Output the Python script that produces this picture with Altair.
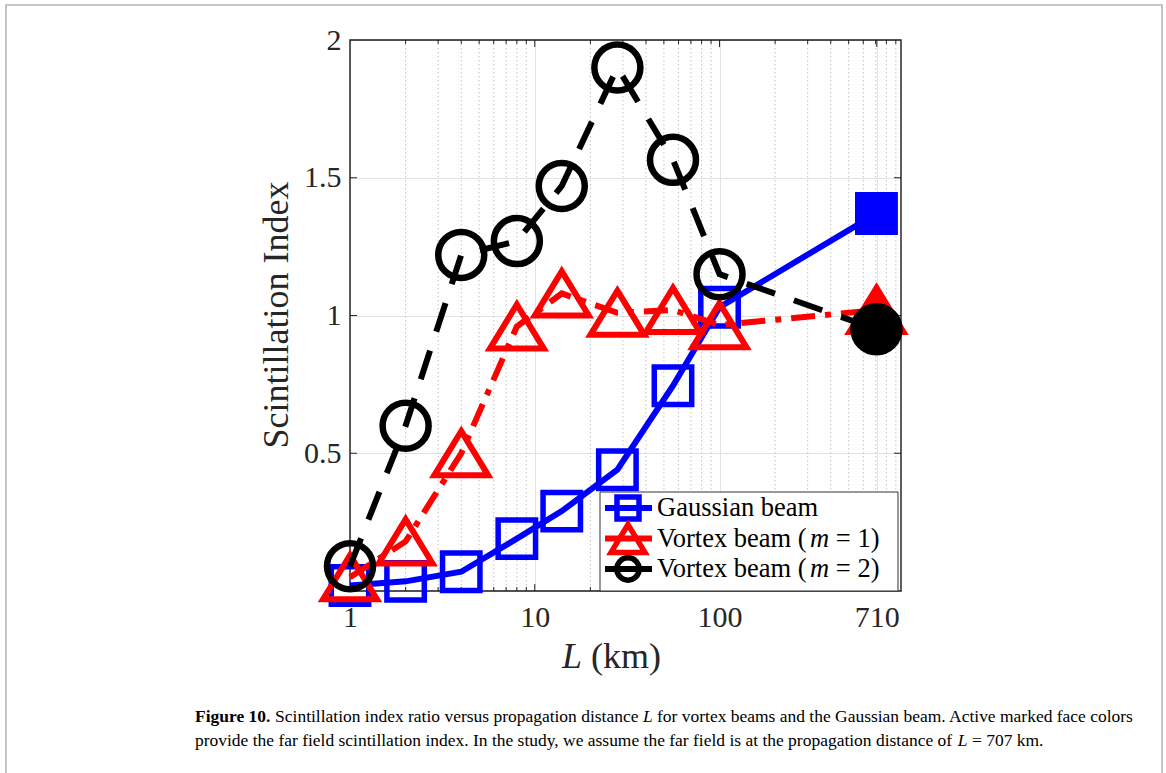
import altair as alt
import pandas as pd

# ---------------- data ----------------
L_km = [1, 2, 4, 8, 14, 28, 56, 100, 707]
gaussian_si = [0.02, 0.035, 0.07, 0.19, 0.29, 0.44, 0.745, 1.03, 1.37]
vortex1_si = [0.05, 0.18, 0.50, 0.96, 1.08, 1.01, 1.02, 0.965, 1.02]
vortex2_si = [0.09, 0.60, 1.22, 1.27, 1.47, 1.90, 1.565, 1.15, 0.95]
far_field_L = 707

x_tick_values = [1, 10, 100, 710]
x_major_tick_marks = [10, 100, 710]
x_minor_values = [2, 3, 4, 5, 6, 7, 8, 9, 20, 30, 40, 50, 60, 70, 80, 90,
                  200, 300, 400, 500, 600, 700, 800, 900]
y_tick_values = [0.5, 1, 1.5, 2]
y_tick_marks = [0.5, 1, 1.5]

# ---------------- layout / style ----------------
W, H = 551, 551
PAD_L, PAD_T = 350, 40
SERIF = "Liberation Serif"
TXT = "#262626"
BLUE, RED, BLACK = "#0000ff", "#ff0000", "#000000"

# Times-compatible advance widths (1/1000 em) for text layout
_REG = dict(zip("abcdefghijklmnopqrstuvwxyz",
                [444, 500, 444, 500, 444, 333, 500, 500, 278, 278, 500, 278, 778,
                 500, 500, 500, 500, 333, 389, 278, 500, 500, 722, 500, 500, 444]))
_REG.update(dict(zip("ABCDEFGHIJKLMNOPQRSTUVWXYZ",
                     [722, 667, 667, 722, 611, 556, 722, 722, 333, 389, 722, 611, 889,
                      722, 722, 556, 722, 667, 556, 611, 722, 722, 944, 722, 722, 611])))
_REG.update({" ": 250, ".": 250, ",": 250, "(": 333, ")": 333, "=": 564, "-": 333})
_REG.update({d: 500 for d in "0123456789"})
_BOLD = {"F": 611, "i": 278, "g": 500, "u": 556, "r": 444, "e": 444, " ": 250, ".": 250}
_BOLD.update({d: 500 for d in "0123456789"})
_ITAL = {"L": 556, "m": 722}


def units(s, style):
    table = {"reg": _REG, "bold": _BOLD, "ital": _ITAL}[style]
    return sum(table.get(c, _REG.get(c, 500)) for c in s)


one = pd.DataFrame({"k": [0]})


def text_at(s, x, y, size, style="reg", align="left", angle=0, color=TXT):
    kw = dict(text=s, align=align, baseline="middle", font=SERIF, fontSize=size, color=color)
    if style == "bold":
        kw["fontWeight"] = "bold"
    if style == "ital":
        kw["fontStyle"] = "italic"
    if angle:
        kw["angle"] = angle
    return alt.Chart(one).mark_text(**kw).encode(x=alt.value(x), y=alt.value(y))


def segments(parts, x0, y, size, color=TXT):
    """Lay out mixed-style text segments one after another."""
    layers, x = [], x0
    for s, style in parts:
        lead = len(s) - len(s.lstrip(" "))
        xs = x + units(s[:lead], style) * size / 1000.0
        if s.strip():
            layers.append(text_at(s.strip(), xs, y, size, style, color=color))
        x += units(s, style) * size / 1000.0
    return layers


xscale = alt.Scale(type="log", domain=[1, 960], nice=False)
yscale = alt.Scale(domain=[0, 2], nice=False, zero=False)
x_axis = alt.Axis(values=x_tick_values, format="d", grid=True, gridColor="#e2e2e2", gridWidth=1,
                  ticks=False, domain=False, labelFont=SERIF, labelFontSize=30, labelColor=TXT,
                  labelPadding=11, labelFlush=False, labelOverlap=False, title=None)
y_axis = alt.Axis(values=y_tick_values, format="~g", grid=True, gridColor="#e2e2e2", gridWidth=1,
                  ticks=False, domain=False, labelFont=SERIF, labelFontSize=30, labelColor=TXT,
                  labelPadding=9, labelFlush=False, labelOverlap=False, title=None)


def X(field):
    return alt.X(f"{field}:Q", scale=xscale, axis=x_axis)


def Y(field):
    return alt.Y(f"{field}:Q", scale=yscale, axis=y_axis)


layers = []

# outer figure frame (as in the journal figure)
layers.append(alt.Chart(one).mark_rect(filled=False, stroke="#b4b4b4", strokeWidth=1.5).encode(
    x=alt.value(-344), x2=alt.value(812), y=alt.value(-35), y2=alt.value(760)))

# minor dotted grid
minor_df = pd.DataFrame({"v": x_minor_values})
layers.append(alt.Chart(minor_df).mark_rule(color="#c4c4c4", strokeWidth=1, strokeDash=[1.5, 2.5]).encode(
    x=X("v"), y=alt.value(0), y2=alt.value(H)))

# inward ticks
tick = dict(color="#262626", strokeWidth=1)
layers.append(alt.Chart(minor_df).mark_rule(**tick).encode(x=X("v"), y=alt.value(H), y2=alt.value(H - 4)))
layers.append(alt.Chart(minor_df).mark_rule(**tick).encode(x=X("v"), y=alt.value(0), y2=alt.value(4)))
major_df = pd.DataFrame({"v": x_major_tick_marks})
layers.append(alt.Chart(major_df).mark_rule(**tick).encode(x=X("v"), y=alt.value(H), y2=alt.value(H - 7)))
layers.append(alt.Chart(major_df).mark_rule(**tick).encode(x=X("v"), y=alt.value(0), y2=alt.value(7)))
ytk_df = pd.DataFrame({"w": y_tick_marks})
layers.append(alt.Chart(ytk_df).mark_rule(**tick).encode(y=Y("w"), x=alt.value(0), x2=alt.value(7)))
layers.append(alt.Chart(ytk_df).mark_rule(**tick).encode(y=Y("w"), x=alt.value(W - 7), x2=alt.value(W)))

# plot box
layers.append(alt.Chart(one).mark_rect(filled=False, stroke="#1a1a1a", strokeWidth=1.4).encode(
    x=alt.value(0), x2=alt.value(W), y=alt.value(0), y2=alt.value(H)))

TRI = "M0,-0.82L1,0.82L-1,0.82Z"
series = [
    (gaussian_si, BLUE, "square", 1400, 5.5, None),
    (vortex1_si, RED, TRI, 2900, 6, [24, 10, 6, 10]),
    (vortex2_si, BLACK, "circle", 2116, 6.5, [30, 20]),
]
for vals, color, shape, size, sw, dash in series:
    df = pd.DataFrame({"L": L_km, "SI": vals})
    near = df[df["L"] != far_field_L]
    far = df[df["L"] == far_field_L]
    lkw = dict(color=color, strokeWidth=6, strokeCap="butt")
    if dash:
        lkw["strokeDash"] = dash
    layers.append(alt.Chart(df).mark_line(**lkw).encode(x=X("L"), y=Y("SI")))
    layers.append(alt.Chart(near).mark_point(shape=shape, size=size, filled=False, stroke=color,
                                             strokeWidth=sw, opacity=1).encode(x=X("L"), y=Y("SI")))
    layers.append(alt.Chart(far).mark_point(shape=shape, size=size, filled=True, color=color, stroke=color,
                                            strokeWidth=sw, opacity=1).encode(x=X("L"), y=Y("SI")))

# ---------------- legend (drawn manually, MATLAB style) ----------------
LX0, LX1, LY0, LY1 = 250, 548, 452, 551
layers.append(alt.Chart(one).mark_rect(fill="white", stroke="#333333", strokeWidth=1).encode(
    x=alt.value(LX0), x2=alt.value(LX1), y=alt.value(LY0), y2=alt.value(LY1)))
leg_rows = [
    ([("Gaussian beam", "reg")], BLUE, "square", 484, 5.5, None),
    ([("Vortex beam (", "reg"), ("m", "ital"), (" = 1)", "reg")], RED, TRI, 1150, 5.5, [24, 10, 6, 10]),
    ([("Vortex beam (", "reg"), ("m", "ital"), (" = 2)", "reg")], BLACK, "circle", 500, 5.5, [30, 20]),
]
LEG_FS = 26.5
for i, (parts, color, shape, size, sw, dash) in enumerate(leg_rows):
    yy = 468 + 30.5 * i
    rkw = dict(color=color, strokeWidth=6, strokeCap="butt")
    layers.append(alt.Chart(one).mark_rule(**rkw).encode(
        x=alt.value(255), x2=alt.value(302), y=alt.value(yy)))
    layers.append(alt.Chart(one).mark_point(shape=shape, size=size, filled=False, stroke=color,
                                            strokeWidth=sw, opacity=1).encode(
        x=alt.value(278), y=alt.value(yy)))
    layers += segments(parts, 307, yy, LEG_FS, color="#000000")

# ---------------- axis titles ----------------
layers.append(text_at("Scintillation Index", -73, 275, 36, align="center", angle=270))
layers += segments([("L", "ital"), (" (km)", "reg")], 212, 617, 36)

# ---------------- caption ----------------
cap1 = [("Figure 10.", "bold"),
        (" Scintillation index ratio versus propagation distance ", "reg"),
        ("L", "ital"),
        (" for vortex beams and the Gaussian beam. Active marked face colors", "reg")]
cap2 = [("provide the far field scintillation index. In the study, we assume the far field is at the "
         "propagation distance of ", "reg"),
        ("L", "ital"),
        (" = 707 km.", "reg")]
cap_units = sum(units(s, st) for s, st in cap1)
CAP_FS = 939 * 1000.0 / cap_units
layers += segments(cap1, -155, 677, CAP_FS, color="#000000")
layers += segments(cap2, -155, 701, CAP_FS, color="#000000")

chart = alt.layer(*layers).properties(
    width=W, height=H,
    autosize=alt.AutoSizeParams(type="none"),
    padding={"left": PAD_L, "top": PAD_T, "right": 1166 - PAD_L - W, "bottom": 773 - PAD_T - H},
    background="white",
).configure_view(stroke="transparent")

chart.save("out.html", embed_options={"renderer": "svg", "actions": False})
